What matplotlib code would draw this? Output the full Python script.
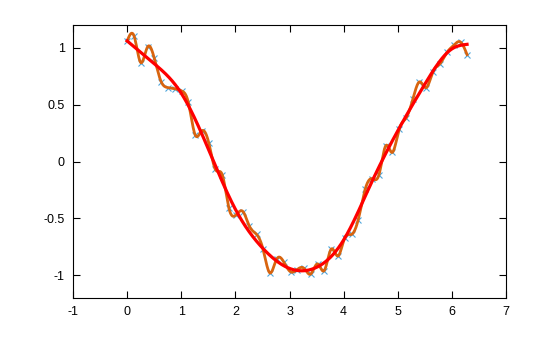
import numpy as np
import matplotlib
matplotlib.use("Agg")
import matplotlib.pyplot as plt

# noisy samples (x markers), evenly spaced from 0 to 2*pi
data_x = [0.00, 0.13, 0.25, 0.38, 0.50, 0.63, 0.75, 0.88, 1.01, 1.13,
          1.26, 1.38, 1.51, 1.63, 1.76, 1.88, 2.01, 2.14, 2.26, 2.39,
          2.51, 2.64, 2.76, 2.89, 3.02, 3.14, 3.27, 3.39, 3.52, 3.64,
          3.77, 3.90, 4.02, 4.15, 4.27, 4.40, 4.52, 4.65, 4.78, 4.90,
          5.03, 5.15, 5.28, 5.40, 5.53, 5.65, 5.78, 5.91, 6.03, 6.16,
          6.28]
data_y = [1.06, 1.10, 0.87, 1.01, 0.91, 0.70, 0.65, 0.64, 0.62, 0.52,
          0.23, 0.27, 0.16, -0.07, -0.12, -0.41, -0.47, -0.44, -0.57, -0.64,
          -0.77, -0.98, -0.86, -0.88, -0.97, -0.95, -0.94, -0.99, -0.90, -0.96,
          -0.77, -0.83, -0.67, -0.64, -0.51, -0.24, -0.15, -0.12, 0.14, 0.08,
          0.29, 0.38, 0.55, 0.70, 0.65, 0.79, 0.86, 0.96, 1.02, 1.05,
          0.94]

# smooth (red) curve, read at a few x positions
smooth_x = [0.0, 0.5, 1.0, 1.5, 2.0, 2.5, 3.0, 3.5, 4.0, 4.5, 5.0, 5.5, 6.0, 6.28]
smooth_y = [1.06, 0.86, 0.60, 0.11, -0.42, -0.76, -0.94, -0.93, -0.69, -0.20,
            0.27, 0.68, 0.99, 1.03]

x_ticks = [-1, 0, 1, 2, 3, 4, 5, 6, 7]
y_ticks = [-1, -0.5, 0, 0.5, 1]
y_tick_labels = ["-1", "-0.5", "0", "0.5", "1"]


def natural_spline(xs, ys, n=1200):
    """Natural cubic spline through the given points."""
    xs = np.asarray(xs, float)
    ys = np.asarray(ys, float)
    k = len(xs)
    h = np.diff(xs)
    a = np.zeros((k, k))
    b = np.zeros(k)
    a[0, 0] = 1.0
    a[-1, -1] = 1.0
    for i in range(1, k - 1):
        a[i, i - 1] = h[i - 1]
        a[i, i] = 2 * (h[i - 1] + h[i])
        a[i, i + 1] = h[i]
        b[i] = 6 * ((ys[i + 1] - ys[i]) / h[i] - (ys[i] - ys[i - 1]) / h[i - 1])
    m = np.linalg.solve(a, b)
    xx = np.linspace(xs[0], xs[-1], n)
    idx = np.clip(np.searchsorted(xs, xx) - 1, 0, k - 2)
    x0, x1 = xs[idx], xs[idx + 1]
    hh = x1 - x0
    t0 = x1 - xx
    t1 = xx - x0
    yy = (m[idx] * t0 ** 3 / (6 * hh) + m[idx + 1] * t1 ** 3 / (6 * hh)
          + (ys[idx] / hh - m[idx] * hh / 6) * t0
          + (ys[idx + 1] / hh - m[idx + 1] * hh / 6) * t1)
    return xx, yy


plt.rcParams["font.family"] = ["Liberation Sans", "DejaVu Sans"]

fig = plt.figure(figsize=(5.6, 3.37), dpi=100)
ax = fig.add_axes([0.1304, 0.1157, 0.7732, 0.8101])

ax.plot(data_x, data_y, linestyle="none", marker="x", markersize=4.5,
        markeredgewidth=0.8, color="#4ea6dc", zorder=2)

cx, cy = natural_spline(data_x, data_y)
ax.plot(cx, cy, color="#d8640f", linewidth=2.0, zorder=3)

sx, sy = natural_spline(smooth_x, smooth_y)
ax.plot(sx, sy, color="#ff0000", linewidth=2.3, zorder=4)

ax.set_xlim(-1, 7)
ax.set_ylim(-1.2, 1.2)
ax.set_xticks(x_ticks)
ax.set_xticklabels([str(v) for v in x_ticks])
ax.set_yticks(y_ticks)
ax.set_yticklabels(y_tick_labels)
ax.tick_params(direction="in", top=True, right=True, length=5, width=0.8,
               labelsize=9, pad=6)
for spine in ax.spines.values():
    spine.set_linewidth(0.8)

fig.savefig("out.png", dpi=100)
